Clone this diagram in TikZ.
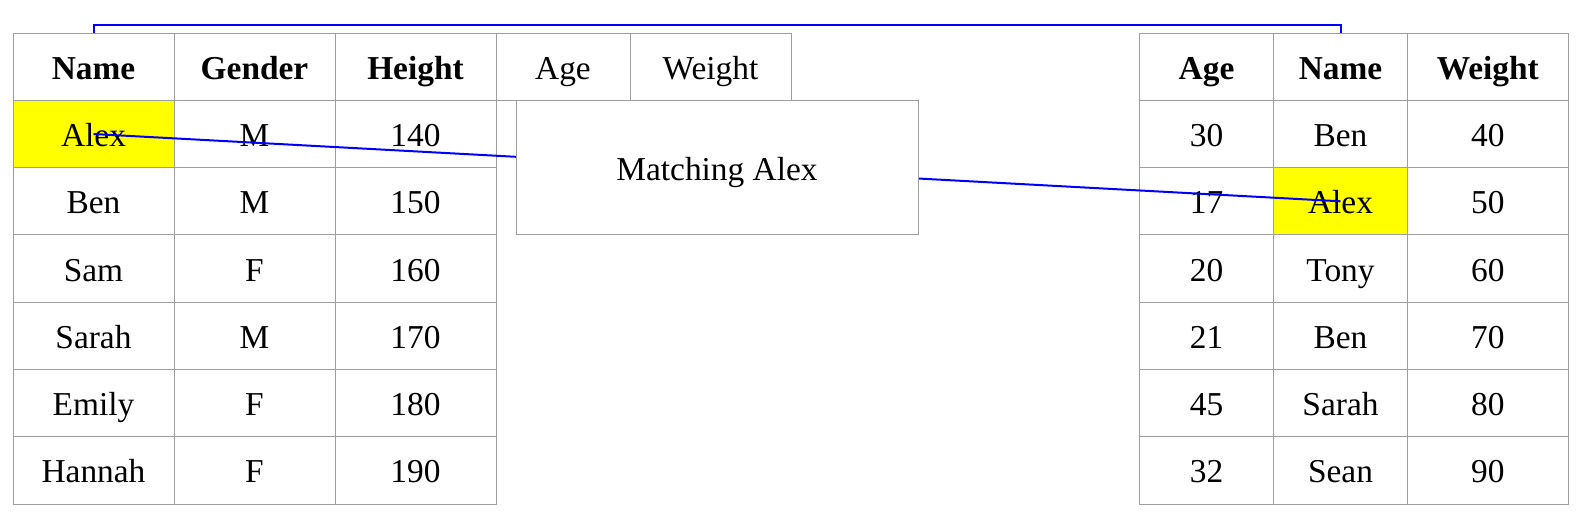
\documentclass[tikz,border=0pt]{standalone}
\usepackage{fontspec}
\setmainfont{Liberation Serif}
\usepackage{tikz}
\usepackage{color}
\definecolor{gridgray}{HTML}{9E9E9E}
\definecolor{hiyellow}{HTML}{FFFF00}
\definecolor{linkblue}{HTML}{0000FF}

\begin{document}
\begin{tikzpicture}[x=0.5pt,y=-0.5pt,
		cell font/.style={font=\fontsize{16.7}{20}\selectfont,text height=12.6pt,text depth=0.2pt},
		wide cell/.style={rectangle,draw=gridgray,line width=0.5pt,minimum width=80.5pt,minimum height=33.65pt,cell font},
		narrow cell/.style={wide cell,minimum width=67pt},
		head/.style={font=\fontsize{16.7}{20}\selectfont\bfseries},
		picked/.style={fill=hiyellow},
		plain/.style={},
		link/.style={draw=linkblue,line width=1pt}]
		
		\useasboundingbox (0,0) rectangle (1580,520);
		
		% left table
		\node[wide cell,head] (L-0-1) at (93.5,66.7) {Name};
		\node[wide cell,head] (L-0-2) at (254.5,66.7) {Gender};
		\node[wide cell,head] (L-0-3) at (415.5,66.7) {Height};
		\node[narrow cell] (L-0-4) at (563,66.7) {Age};
		\node[wide cell] (L-0-5) at (710.5,66.7) {Weight};
		\foreach \nm/\gd/\hgt/\mk [count=\row] in {Alex/M/140/picked, Ben/M/150/plain, Sam/F/160/plain, Sarah/M/170/plain, Emily/F/180/plain, Hannah/F/190/plain} {
			\node[wide cell,\mk] (L-\row-1) at (93.5,66.7+67.3*\row) {\nm};
			\node[wide cell] (L-\row-2) at (254.5,66.7+67.3*\row) {\gd};
			\node[wide cell] (L-\row-3) at (415.5,66.7+67.3*\row) {\hgt};
		}
		
		% right table
		\node[narrow cell,head] (R-0-1) at (1206.5,66.7) {Age};
		\node[narrow cell,head] (R-0-2) at (1340.5,66.7) {Name};
		\node[wide cell,head] (R-0-3) at (1487.8,66.7) {Weight};
		\foreach \ag/\nm/\wt/\mk [count=\row] in {30/Ben/40/plain, 17/Alex/50/picked, 20/Tony/60/plain, 21/Ben/70/plain, 45/Sarah/80/plain, 32/Sean/90/plain} {
			\node[narrow cell] (R-\row-1) at (1206.5,66.7+67.3*\row) {\ag};
			\node[narrow cell,\mk] (R-\row-2) at (1340.5,66.7+67.3*\row) {\nm};
			\node[wide cell] (R-\row-3) at (1487.8,66.7+67.3*\row) {\wt};
		}
		
		\draw[link] (L-1-1.center) -- (R-2-2.center);
		\draw[link] (L-0-1.north) -- ++(0,-8) -| (R-0-2.north);
		
		\node[rectangle,draw=gridgray,fill=white,line width=0.5pt,minimum width=201pt,minimum height=67.15pt,cell font] (match) at (717,167.8) {Matching Alex};
\end{tikzpicture}
\end{document}
